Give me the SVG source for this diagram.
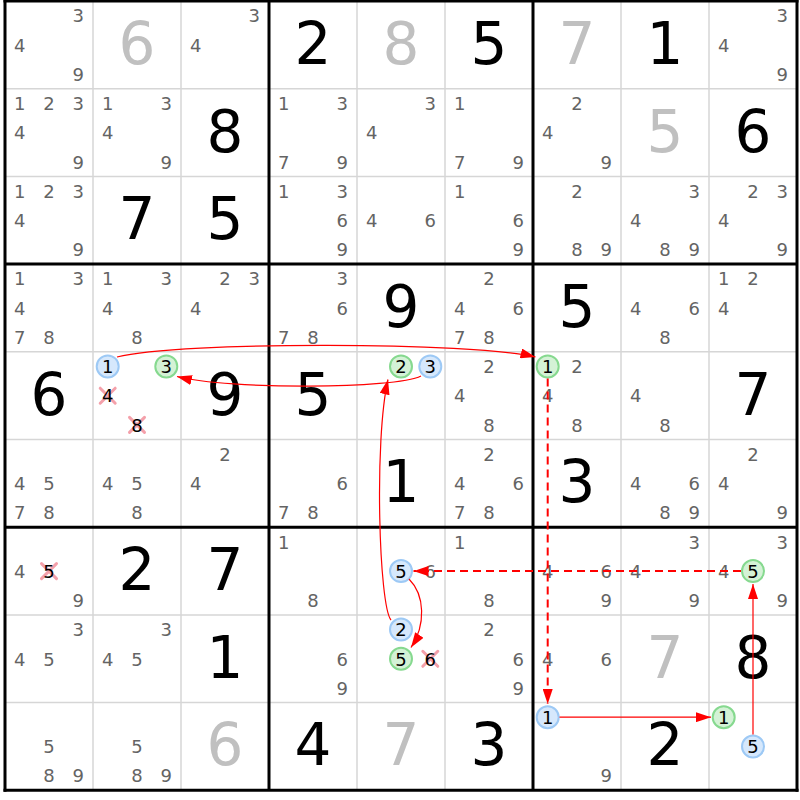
<svg xmlns="http://www.w3.org/2000/svg" width="800" height="800" viewBox="0 0 800 800">
<style>
.t{font-family:"DejaVu Sans",Verdana,sans-serif;text-anchor:middle}
.c{font-size:18px;fill:#646464}
.k{font-size:18px;fill:#000}
.g{font-size:58px;fill:#000}
.s{font-size:58px;fill:#c0c0c0}
.cb{fill:#d6e8fc;stroke:#9dc9f5;stroke-width:2}
.cg{fill:#d4f2d6;stroke:#86d98f;stroke-width:2}
.x{stroke:#f4a0aa;stroke-width:3;stroke-linecap:round}
.thin{stroke:#d6d6d6;stroke-width:1.5}
.thick{stroke:#000;stroke-width:3}
.a{fill:none;stroke:#f00;stroke-width:1.2}
.d{fill:none;stroke:#f00;stroke-width:2;stroke-dasharray:8 5}
</style>
<defs>
<marker id="ah" viewBox="0 0 15 10" refX="15" refY="5" markerWidth="15" markerHeight="10" markerUnits="userSpaceOnUse" orient="auto"><path d="M0,0 L15,5 L0,10 z" fill="#f00"/></marker>
</defs>
<rect width="800" height="800" fill="#fff"/>
<g id="grid">
<g class="thin">
<line x1="93" y1="1" x2="93" y2="790.3"/><line x1="181" y1="1" x2="181" y2="790.3"/><line x1="357" y1="1" x2="357" y2="790.3"/><line x1="445" y1="1" x2="445" y2="790.3"/><line x1="621" y1="1" x2="621" y2="790.3"/><line x1="709" y1="1" x2="709" y2="790.3"/>
<line x1="5" y1="88.7" x2="797" y2="88.7"/><line x1="5" y1="176.4" x2="797" y2="176.4"/><line x1="5" y1="351.8" x2="797" y2="351.8"/><line x1="5" y1="439.5" x2="797" y2="439.5"/><line x1="5" y1="614.9" x2="797" y2="614.9"/><line x1="5" y1="702.6" x2="797" y2="702.6"/>
</g>
<g class="thick">
<line x1="5" y1="-0.5" x2="5" y2="791.8"/><line x1="269" y1="1" x2="269" y2="790.3"/><line x1="533" y1="1" x2="533" y2="790.3"/><line x1="797" y1="-0.5" x2="797" y2="791.8"/>
<line x1="3.5" y1="1" x2="798.5" y2="1"/><line x1="5" y1="264.1" x2="797" y2="264.1"/><line x1="5" y1="527.2" x2="797" y2="527.2"/><line x1="3.5" y1="790.3" x2="798.5" y2="790.3"/>
</g>
</g>
<g id="cells" class="t">
<g id="r0c0"><text class="c" x="78.3" y="22.3">3</text><text class="c" x="19.7" y="51.6">4</text><text class="c" x="78.3" y="80.8">9</text></g>
<g id="r0c1"><text class="s" x="137" y="63.8">6</text></g>
<g id="r0c2"><text class="c" x="254.3" y="22.3">3</text><text class="c" x="195.7" y="51.6">4</text></g>
<g id="r0c3"><text class="g" x="313" y="63.8">2</text></g>
<g id="r0c4"><text class="s" x="401" y="63.8">8</text></g>
<g id="r0c5"><text class="g" x="489" y="63.8">5</text></g>
<g id="r0c6"><text class="s" x="577" y="63.8">7</text></g>
<g id="r0c7"><text class="g" x="665" y="63.8">1</text></g>
<g id="r0c8"><text class="c" x="782.3" y="22.3">3</text><text class="c" x="723.7" y="51.6">4</text><text class="c" x="782.3" y="80.8">9</text></g>

<g id="r1c0"><text class="c" x="19.7" y="110">1</text><text class="c" x="49" y="110">2</text><text class="c" x="78.3" y="110">3</text><text class="c" x="19.7" y="139.3">4</text><text class="c" x="78.3" y="168.5">9</text></g>
<g id="r1c1"><text class="c" x="107.7" y="110">1</text><text class="c" x="166.3" y="110">3</text><text class="c" x="107.7" y="139.3">4</text><text class="c" x="166.3" y="168.5">9</text></g>
<g id="r1c2"><text class="g" x="225" y="151.5">8</text></g>
<g id="r1c3"><text class="c" x="283.7" y="110">1</text><text class="c" x="342.3" y="110">3</text><text class="c" x="283.7" y="168.5">7</text><text class="c" x="342.3" y="168.5">9</text></g>
<g id="r1c4"><text class="c" x="430.3" y="110">3</text><text class="c" x="371.7" y="139.3">4</text></g>
<g id="r1c5"><text class="c" x="459.7" y="110">1</text><text class="c" x="459.7" y="168.5">7</text><text class="c" x="518.3" y="168.5">9</text></g>
<g id="r1c6"><text class="c" x="577" y="110">2</text><text class="c" x="547.7" y="139.3">4</text><text class="c" x="606.3" y="168.5">9</text></g>
<g id="r1c7"><text class="s" x="665" y="151.5">5</text></g>
<g id="r1c8"><text class="g" x="753" y="151.5">6</text></g>

<g id="r2c0"><text class="c" x="19.7" y="197.7">1</text><text class="c" x="49" y="197.7">2</text><text class="c" x="78.3" y="197.7">3</text><text class="c" x="19.7" y="227">4</text><text class="c" x="78.3" y="256.2">9</text></g>
<g id="r2c1"><text class="g" x="137" y="239.2">7</text></g>
<g id="r2c2"><text class="g" x="225" y="239.2">5</text></g>
<g id="r2c3"><text class="c" x="283.7" y="197.7">1</text><text class="c" x="342.3" y="197.7">3</text><text class="c" x="342.3" y="227">6</text><text class="c" x="342.3" y="256.2">9</text></g>
<g id="r2c4"><text class="c" x="371.7" y="227">4</text><text class="c" x="430.3" y="227">6</text></g>
<g id="r2c5"><text class="c" x="459.7" y="197.7">1</text><text class="c" x="518.3" y="227">6</text><text class="c" x="518.3" y="256.2">9</text></g>
<g id="r2c6"><text class="c" x="577" y="197.7">2</text><text class="c" x="577" y="256.2">8</text><text class="c" x="606.3" y="256.2">9</text></g>
<g id="r2c7"><text class="c" x="694.3" y="197.7">3</text><text class="c" x="635.7" y="227">4</text><text class="c" x="665" y="256.2">8</text><text class="c" x="694.3" y="256.2">9</text></g>
<g id="r2c8"><text class="c" x="753" y="197.7">2</text><text class="c" x="782.3" y="197.7">3</text><text class="c" x="723.7" y="227">4</text><text class="c" x="782.3" y="256.2">9</text></g>

<g id="r3c0"><text class="c" x="19.7" y="285.4">1</text><text class="c" x="78.3" y="285.4">3</text><text class="c" x="19.7" y="314.7">4</text><text class="c" x="19.7" y="343.9">7</text><text class="c" x="49" y="343.9">8</text></g>
<g id="r3c1"><text class="c" x="107.7" y="285.4">1</text><text class="c" x="166.3" y="285.4">3</text><text class="c" x="107.7" y="314.7">4</text><text class="c" x="137" y="343.9">8</text></g>
<g id="r3c2"><text class="c" x="225" y="285.4">2</text><text class="c" x="254.3" y="285.4">3</text><text class="c" x="195.7" y="314.7">4</text></g>
<g id="r3c3"><text class="c" x="342.3" y="285.4">3</text><text class="c" x="342.3" y="314.7">6</text><text class="c" x="283.7" y="343.9">7</text><text class="c" x="313" y="343.9">8</text></g>
<g id="r3c4"><text class="g" x="401" y="326.9">9</text></g>
<g id="r3c5"><text class="c" x="489" y="285.4">2</text><text class="c" x="459.7" y="314.7">4</text><text class="c" x="518.3" y="314.7">6</text><text class="c" x="459.7" y="343.9">7</text><text class="c" x="489" y="343.9">8</text></g>
<g id="r3c6"><text class="g" x="577" y="326.9">5</text></g>
<g id="r3c7"><text class="c" x="635.7" y="314.7">4</text><text class="c" x="694.3" y="314.7">6</text><text class="c" x="665" y="343.9">8</text></g>
<g id="r3c8"><text class="c" x="723.7" y="285.4">1</text><text class="c" x="753" y="285.4">2</text><text class="c" x="723.7" y="314.7">4</text></g>

<g id="r4c0"><text class="g" x="49" y="414.6">6</text></g>
<g id="r4c1"><circle class="cb" cx="107.7" cy="366.4" r="11"/><text class="k" x="107.7" y="373.1">1</text><circle class="cg" cx="166.3" cy="366.4" r="11"/><text class="k" x="166.3" y="373.1">3</text><path class="x" d="M100.2,388.2 L115.2,403.2 M115.2,388.2 L100.2,403.2"/><text class="k" x="107.7" y="402.4">4</text><path class="x" d="M129.5,417.4 L144.5,432.4 M144.5,417.4 L129.5,432.4"/><text class="k" x="137" y="431.6">8</text></g>
<g id="r4c2"><text class="g" x="225" y="414.6">9</text></g>
<g id="r4c3"><text class="g" x="313" y="414.6">5</text></g>
<g id="r4c4"><circle class="cg" cx="401" cy="366.4" r="11"/><text class="k" x="401" y="373.1">2</text><circle class="cb" cx="430.3" cy="366.4" r="11"/><text class="k" x="430.3" y="373.1">3</text></g>
<g id="r4c5"><text class="c" x="489" y="373.1">2</text><text class="c" x="459.7" y="402.4">4</text><text class="c" x="489" y="431.6">8</text></g>
<g id="r4c6"><circle class="cg" cx="547.7" cy="366.4" r="11"/><text class="k" x="547.7" y="373.1">1</text><text class="c" x="577" y="373.1">2</text><text class="c" x="547.7" y="402.4">4</text><text class="c" x="577" y="431.6">8</text></g>
<g id="r4c7"><text class="c" x="635.7" y="402.4">4</text><text class="c" x="665" y="431.6">8</text></g>
<g id="r4c8"><text class="g" x="753" y="414.6">7</text></g>

<g id="r5c0"><text class="c" x="19.7" y="490.1">4</text><text class="c" x="49" y="490.1">5</text><text class="c" x="19.7" y="519.3">7</text><text class="c" x="49" y="519.3">8</text></g>
<g id="r5c1"><text class="c" x="107.7" y="490.1">4</text><text class="c" x="137" y="490.1">5</text><text class="c" x="137" y="519.3">8</text></g>
<g id="r5c2"><text class="c" x="225" y="460.8">2</text><text class="c" x="195.7" y="490.1">4</text></g>
<g id="r5c3"><text class="c" x="342.3" y="490.1">6</text><text class="c" x="283.7" y="519.3">7</text><text class="c" x="313" y="519.3">8</text></g>
<g id="r5c4"><text class="g" x="401" y="502.3">1</text></g>
<g id="r5c5"><text class="c" x="489" y="460.8">2</text><text class="c" x="459.7" y="490.1">4</text><text class="c" x="518.3" y="490.1">6</text><text class="c" x="459.7" y="519.3">7</text><text class="c" x="489" y="519.3">8</text></g>
<g id="r5c6"><text class="g" x="577" y="502.3">3</text></g>
<g id="r5c7"><text class="c" x="635.7" y="490.1">4</text><text class="c" x="694.3" y="490.1">6</text><text class="c" x="665" y="519.3">8</text><text class="c" x="694.3" y="519.3">9</text></g>
<g id="r5c8"><text class="c" x="753" y="460.8">2</text><text class="c" x="723.7" y="490.1">4</text><text class="c" x="782.3" y="519.3">9</text></g>

<g id="r6c0"><text class="c" x="19.7" y="577.8">4</text><path class="x" d="M41.5,563.6 L56.5,578.6 M56.5,563.6 L41.5,578.6"/><text class="k" x="49" y="577.8">5</text><text class="c" x="78.3" y="607">9</text></g>
<g id="r6c1"><text class="g" x="137" y="590">2</text></g>
<g id="r6c2"><text class="g" x="225" y="590">7</text></g>
<g id="r6c3"><text class="c" x="283.7" y="548.5">1</text><text class="c" x="313" y="607">8</text></g>
<g id="r6c4"><circle class="cb" cx="401" cy="571.1" r="11"/><text class="k" x="401" y="577.8">5</text><text class="c" x="430.3" y="577.8">6</text></g>
<g id="r6c5"><text class="c" x="459.7" y="548.5">1</text><text class="c" x="489" y="607">8</text></g>
<g id="r6c6"><text class="c" x="547.7" y="577.8">4</text><text class="c" x="606.3" y="577.8">6</text><text class="c" x="606.3" y="607">9</text></g>
<g id="r6c7"><text class="c" x="694.3" y="548.5">3</text><text class="c" x="635.7" y="577.8">4</text><text class="c" x="694.3" y="607">9</text></g>
<g id="r6c8"><text class="c" x="782.3" y="548.5">3</text><text class="c" x="723.7" y="577.8">4</text><circle class="cg" cx="753" cy="571.1" r="11"/><text class="k" x="753" y="577.8">5</text><text class="c" x="782.3" y="607">9</text></g>

<g id="r7c0"><text class="c" x="78.3" y="636.2">3</text><text class="c" x="19.7" y="665.5">4</text><text class="c" x="49" y="665.5">5</text></g>
<g id="r7c1"><text class="c" x="166.3" y="636.2">3</text><text class="c" x="107.7" y="665.5">4</text><text class="c" x="137" y="665.5">5</text></g>
<g id="r7c2"><text class="g" x="225" y="677.7">1</text></g>
<g id="r7c3"><text class="c" x="342.3" y="665.5">6</text><text class="c" x="342.3" y="694.7">9</text></g>
<g id="r7c4"><circle class="cb" cx="401" cy="629.5" r="11"/><text class="k" x="401" y="636.2">2</text><circle class="cg" cx="401" cy="658.8" r="11"/><text class="k" x="401" y="665.5">5</text><path class="x" d="M422.8,651.3 L437.8,666.3 M437.8,651.3 L422.8,666.3"/><text class="k" x="430.3" y="665.5">6</text></g>
<g id="r7c5"><text class="c" x="489" y="636.2">2</text><text class="c" x="518.3" y="665.5">6</text><text class="c" x="518.3" y="694.7">9</text></g>
<g id="r7c6"><text class="c" x="547.7" y="665.5">4</text><text class="c" x="606.3" y="665.5">6</text></g>
<g id="r7c7"><text class="s" x="665" y="677.7">7</text></g>
<g id="r7c8"><text class="g" x="753" y="677.7">8</text></g>

<g id="r8c0"><text class="c" x="49" y="753.2">5</text><text class="c" x="49" y="782.4">8</text><text class="c" x="78.3" y="782.4">9</text></g>
<g id="r8c1"><text class="c" x="137" y="753.2">5</text><text class="c" x="137" y="782.4">8</text><text class="c" x="166.3" y="782.4">9</text></g>
<g id="r8c2"><text class="s" x="225" y="765.4">6</text></g>
<g id="r8c3"><text class="g" x="313" y="765.4">4</text></g>
<g id="r8c4"><text class="s" x="401" y="765.4">7</text></g>
<g id="r8c5"><text class="g" x="489" y="765.4">3</text></g>
<g id="r8c6"><circle class="cb" cx="547.7" cy="717.2" r="11"/><text class="k" x="547.7" y="723.9">1</text><text class="c" x="606.3" y="782.4">9</text></g>
<g id="r8c7"><text class="g" x="665" y="765.4">2</text></g>
<g id="r8c8"><circle class="cg" cx="723.7" cy="717.2" r="11"/><text class="k" x="723.7" y="723.9">1</text><circle class="cb" cx="753" cy="746.5" r="11"/><text class="k" x="753" y="753.2">5</text></g>
</g>
<g id="connectors">
<path class="a" marker-end="url(#ah)" d="M117,357 C180,341 475,342 535.5,357"/>
<path class="a" marker-end="url(#ah)" d="M421,376 C395,389 230,390 177,376.5"/>
<path class="a" marker-end="url(#ah)" d="M391,620 C379,606 374,440 388,379.5"/>
<path class="a" marker-end="url(#ah)" d="M409,579 C425,595 426,625 411,647.5"/>
<path class="d" marker-end="url(#ah)" d="M741,571.1 L413.5,571.1"/>
<path class="d" marker-end="url(#ah)" d="M547.7,378.5 L547.7,704"/>
<path class="a" marker-end="url(#ah)" d="M559.5,717.2 L711,717.2"/>
<path class="a" marker-end="url(#ah)" d="M753,734.5 L753,584"/>
</g>
</svg>
